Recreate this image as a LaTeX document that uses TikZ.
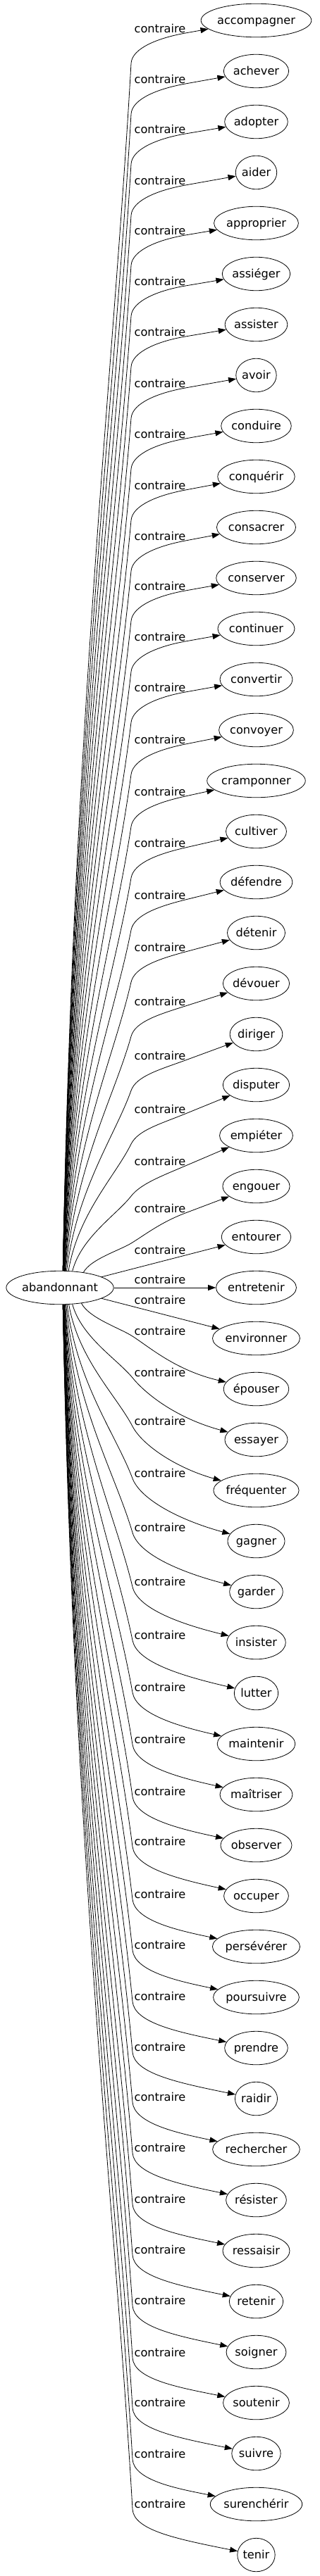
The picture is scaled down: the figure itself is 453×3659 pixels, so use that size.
\documentclass[tikz,border=0pt]{standalone}
\usepackage{fontspec}
\setmainfont{DejaVu Sans}
\usetikzlibrary{shapes.geometric,arrows.meta}
\newlength\wordlen
\newcommand\wordfont{\fontsize{16.2}{19}\selectfont}

\tikzset{
  word/.style={draw, ellipse, line width=0.8pt, inner sep=0pt, minimum height=47.5pt,
    text height=11.4pt, text depth=0pt, font=\wordfont},
  rel/.style={inner sep=0pt, text height=12pt, text depth=0pt, font=\wordfont},
  link/.style={line width=0.8pt, -{Triangle[length=11pt,width=8pt]}},
}

\begin{document}
\begin{tikzpicture}[x=1pt, y=-1pt]
    \useasboundingbox (0,0) rectangle (453,3659);

    % source word
    \settowidth\wordlen{\wordfont abandonnant}
    \node[word, minimum width=1.234*\wordlen+28.8pt] (abandonnant) at (85,1829) {abandonnant};

    % opposites, one label and one link each
    \foreach \name/\ly [count=\idx from 0] in {accompagner/40, achever/112, adopter/183,
        aider/256, approprier/327, assiéger/399, assister/471, avoir/544, conduire/616,
        conquérir/689, consacrer/761, conserver/832, continuer/904, convertir/976,
        convoyer/1050, cramponner/1124, cultiver/1197, défendre/1271, détenir/1345,
        dévouer/1422, diriger/1499, disputer/1575, empiéter/1649, engouer/1716,
        entourer/1775, entretenir/1817, environner/1846, épouser/1890, essayer/1949,
        fréquenter/2018, gagner/2092, garder/2169, insister/2246, lutter/2322,
        maintenir/2396, maîtriser/2470, observer/2544, occuper/2615, persévérer/2690,
        poursuivre/2762, prendre/2835, raidir/2907, rechercher/2978, résister/3050,
        ressaisir/3123, retenir/3195, soigner/3267, soutenir/3341, suivre/3412,
        surenchérir/3485, tenir/3556} {
      \settowidth\wordlen{\wordfont \name}
      \node[word, minimum width=1.234*\wordlen+28.8pt] (w\idx) at (363.5, 29+72*\idx) {\name};
      \node[rel] (r\idx) at (227,\ly) {contraire};
      \pgfmathsetmacro\ty{29+72*\idx}
      \ifnum\idx<24
        % upper links: up the bundle, bend, past the label
        \pgfmathsetmacro\By{\ly+50}
        \pgfmathsetmacro\sdx{min(3+19/((1829-\By)/100),40)}
        \pgfmathsetmacro\sdy{24*sqrt(1-(\sdx/80)^2)}
        \pgfmathtruncatemacro\ang{round(atan2(\sdy,\sdx))}
        \pgfmathsetmacro\Sx{85+\sdx}
        \pgfmathsetmacro\Sy{1829-\sdy}
        \pgfmathsetmacro\vx{186-\Sx}
        \pgfmathsetmacro\vy{\By-\Sy}
        \pgfmathsetmacro\vlen{veclen(\vx/100,\vy/100)}
        \pgfmathsetmacro\ux{\vx/100/\vlen}
        \pgfmathsetmacro\uy{\vy/100/\vlen}
        \pgfmathsetmacro\wlen{veclen(1.005,(\ty-\ly-7)/100)}
        \pgfmathsetmacro\wx{1.005/\wlen}
        \pgfmathsetmacro\wy{(\ty-\ly-7)/100/\wlen}
        \draw[link] (abandonnant.\ang)
          .. controls (\Sx+0.15*\vx, \Sy+0.45*\vy) and (186-0.25*\vx, \By-0.25*\vy)
          .. (186,\By)
          .. controls (186+22*\ux, \By+22*\uy) and (263-38*\wx, \ly+7-38*\wy)
          .. (263,\ly+7) -- (w\idx);
      \else\ifnum\idx>26
        % lower links: down the bundle, bend under the label
        \pgfmathsetmacro\Ky{\ly+8}
        \pgfmathsetmacro\sdx{min(3+19/((\Ky-1829)/100),40)}
        \pgfmathsetmacro\sdy{24*sqrt(1-(\sdx/80)^2)}
        \pgfmathtruncatemacro\ang{-round(atan2(\sdy,\sdx))}
        \pgfmathsetmacro\Sx{85+\sdx}
        \pgfmathsetmacro\Sy{1829+\sdy}
        \pgfmathsetmacro\vx{188-\Sx}
        \pgfmathsetmacro\vy{\Ky-\Sy}
        \pgfmathsetmacro\vlen{veclen(\vx/100,\vy/100)}
        \pgfmathsetmacro\ux{\vx/100/\vlen}
        \pgfmathsetmacro\uy{\vy/100/\vlen}
        \draw[link] (abandonnant.\ang)
          .. controls (\Sx+0.15*\vx, \Sy+0.45*\vy) and (188-0.25*\vx, \Ky-0.25*\vy)
          .. (188,\Ky)
          .. controls (188+30*\ux, \Ky+30*\uy) and (250, \ty-0.35*\ty+0.35*\Ky)
          .. (w\idx);
      \else
        % the three nearest ones
        \draw[link] (abandonnant) -- (w\idx);
      \fi\fi
    }
\end{tikzpicture}
\end{document}
